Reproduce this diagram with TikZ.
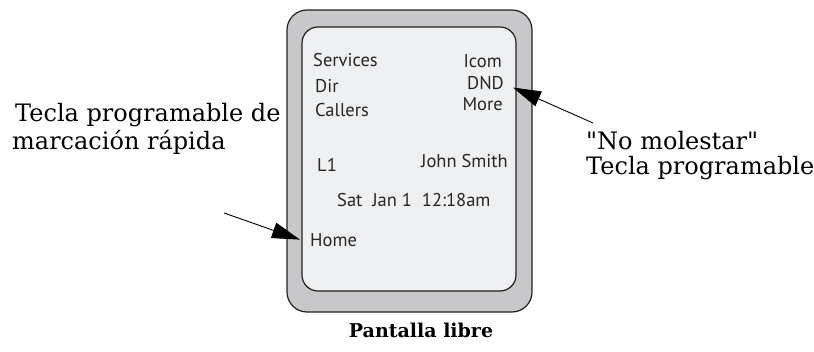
\documentclass[tikz,border=0pt]{standalone}
\usepackage{fontspec}
\usepackage{tikz}
\usetikzlibrary{arrows.meta, positioning}
\newfontfamily\screenfont{PT Sans}
\newfontfamily\labelfont{DejaVu Serif}
\definecolor{bezelgray}{RGB}{200,200,202}
\definecolor{screengray}{RGB}{239,240,242}
\definecolor{edgeblack}{RGB}{35,31,32}

\begin{document}
\begin{tikzpicture}[
        x=1pt, y=-1pt,
        softkey/.style={inner sep=0pt, font=\screenfont\fontsize{18.5}{20}\selectfont, text=black!85},
        callout/.style={inner sep=0pt, align=left, font=\labelfont\fontsize{24}{28}\selectfont},
        arrow/.style={line width=0.9pt, -{Triangle[length=28pt,width=16pt]}}
    ]
        \useasboundingbox (0,0) rectangle (814,352);

        % Phone display
        \draw[edgeblack, line width=1.2pt, fill=bezelgray, rounded corners=20pt] (287,10) rectangle (532,312);
        \draw[edgeblack, line width=1.2pt, fill=screengray, rounded corners=16pt] (302,27) rectangle (516,291);

        % Softkeys
        \node[softkey, anchor=base west] (services) at (313,67) {Services};
        \node[softkey, anchor=base west] (dir) at (315,93) {Dir};
        \node[softkey, anchor=base west] (callers) at (315,117) {Callers};
        \node[softkey, anchor=base east] (icom) at (502,68) {Icom};
        \node[softkey, anchor=base east] (dnd) at (504,90) {DND};
        \node[softkey, anchor=base east] (more) at (503,111) {More};
        \node[softkey, anchor=base west] (line1) at (317,172) {L1};
        \node[softkey, anchor=base east] (name) at (508,168) {John Smith};
        \node[softkey, anchor=base west] (clock) at (337,207) {Sat\ \ Jan 1\ \ 12:18am};
        \node[softkey, anchor=base west] (home) at (310,247) {Home};

        % Labels
        \node[callout, anchor=base west] (speedlabel) at (12,150) {\hspace*{3pt}Tecla programable de\\marcación rápida};
        \node[callout, anchor=base west] (dndlabel) at (586,175) {"No molestar"\\[-3pt]Tecla programable};
        \node[inner sep=0pt, font=\labelfont\bfseries\fontsize{19}{22}\selectfont, anchor=base] (caption) at (421,338) {Pantalla libre};

        % Arrows
        \coordinate (hometail) at (224,213);
        \coordinate (dndtail) at (593,123);
        \draw[arrow] (hometail) -- ([xshift=-10pt,yshift=1pt]home.west);
        \draw[arrow] (dndtail) -- ([xshift=9pt,yshift=-4pt]dnd.east);
    \end{tikzpicture}
\end{document}
